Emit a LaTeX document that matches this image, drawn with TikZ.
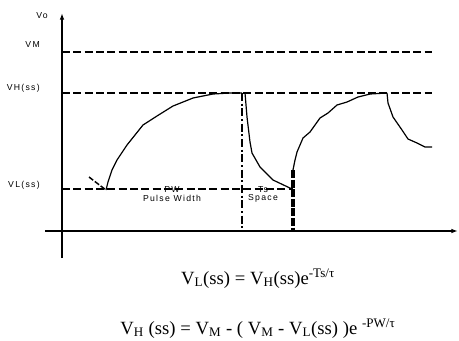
\documentclass[tikz,border=0pt]{standalone}
\usepackage{fontspec}
\setmainfont{Liberation Serif}
\setsansfont{Liberation Sans}
\usetikzlibrary{arrows.meta,positioning}

\begin{document}
\begin{tikzpicture}[
  x=0.75pt, y=-0.75pt,
  node distance=1pt,
  >={Latex[length=5pt,width=3.5pt]},
  axis/.style={line width=1pt},
  level/.style={line width=1.4pt, dash pattern=on 6pt off 2.5pt},
  wave/.style={line width=0.9pt},
  lbl/.style={font=\sffamily\fontsize{6.5}{7.5}\selectfont\addfontfeature{LetterSpace=15}, inner sep=0pt},
  eqn/.style={font=\fontsize{14}{16}\selectfont, inner sep=0pt, anchor=base}
]
\useasboundingbox (0,0) rectangle (459,340);

% axes
\coordinate (ytop) at (62,13);
\coordinate (ybot) at (62,258);
\coordinate (xl) at (45,231);
\coordinate (xr) at (458,231);
\draw[axis,->] (ybot) -- (ytop);
\draw[axis,->] (xl) -- (xr);

% levels
\coordinate (vm) at (62,52);
\coordinate (vh) at (62,93);
\coordinate (vl) at (62,189);
\draw[level] (vm) -- (432,52);
\draw[level] (vh) -- (432,93);
\draw[level] (vl) -- (293,189);

% pulse edges
\coordinate (pwend) at (242,93);
\coordinate (pwfoot) at (242,231);
\coordinate (tsend) at (293,170);
\coordinate (tsfoot) at (293,231);
\draw[line width=1.3pt, dash pattern=on 6pt off 2pt on 1.5pt off 2pt] (pwend) -- (pwfoot);
\draw[line width=2.6pt, dash pattern=on 6pt off 1.2pt] (tsend) -- (tsfoot);

% output voltage
\draw[level, line width=1.1pt, dash pattern=on 4pt off 1.5pt] (89,177) -- (106,190);
\draw[wave] (106,190) -- (108,182) -- (112,170) -- (117,160) -- (127,145) -- (143,125)
  -- (157,116) -- (173,106) -- (193,98) -- (213,94) -- (230,93) -- (pwend);
\draw[wave] (245,93) -- (247,117) -- (250,142) -- (252,153) -- (260,167) -- (273,180)
  -- (292,189);
\draw[wave] (tsend) -- (295,160) -- (297,152) -- (303,138) -- (310,132) -- (320,118)
  -- (328,113) -- (337,105) -- (347,102) -- (358,97) -- (370,94) -- (387,93);
\draw[wave] (387,93) -- (388,103) -- (393,117) -- (402,130) -- (408,139) -- (417,143)
  -- (425,147) -- (432,147);

% labels
\node[lbl, anchor=east] (vo) at (48,16) {Vo};
\node[lbl, anchor=east] (vmlbl) at (40,45) {VM};
\node[lbl, anchor=east] (vhlbl) at (40,88) {VH(ss)};
\node[lbl, anchor=east] (vllbl) at (40,185) {VL(ss)};
\node[lbl] (pw) at (172,190) {PW};
\node[lbl, below=of pw] (pulse) {Pulse Width};
\node[lbl] (ts) at (263,190) {Ts};
\node[lbl, below=of ts] (space) {Space};

% equations
\node[eqn] (eqlow) at (258,284) {V\textsubscript{L}(ss) = V\textsubscript{H}(ss)e\textsuperscript{-Ts/τ}};
\node[eqn] (eqhigh) at (258,334) {V\textsubscript{H} (ss) = V\textsubscript{M} - ( V\textsubscript{M} - V\textsubscript{L}(ss) )e \textsuperscript{-PW/τ}};
\end{tikzpicture}
\end{document}
